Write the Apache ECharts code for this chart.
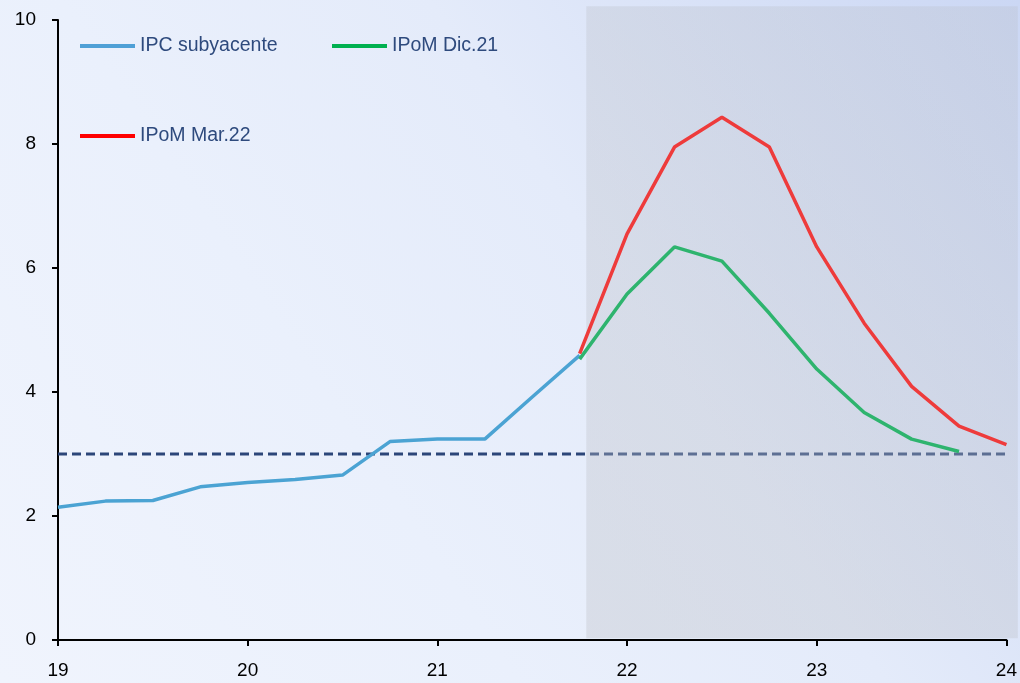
<!DOCTYPE html>
<html>
<head>
<meta charset="utf-8">
<script src="https://cdn.jsdelivr.net/npm/echarts@6/dist/echarts.min.js"></script>
<style>
html,body{margin:0;padding:0;}
#chart{width:1020px;height:683px;}
</style>
</head>
<body>
<div id="chart"></div>
<script>
// Quarterly x positions (year fraction, 19 = 2019)
var xBlue = [19.0, 19.25, 19.5, 19.75, 20.0, 20.25, 20.5, 20.75, 21.0, 21.25, 21.5, 21.75];
var ipcSubyacente = [2.14, 2.24, 2.25, 2.47, 2.54, 2.59, 2.66, 3.20, 3.24, 3.24, 3.92, 4.59];

var xDic = [21.75, 22.0, 22.25, 22.5, 22.75, 23.0, 23.25, 23.5, 23.75];
var ipomDic21 = [4.53, 5.58, 6.34, 6.11, 5.27, 4.37, 3.67, 3.24, 3.04];

var xMar = [21.75, 22.0, 22.25, 22.5, 22.75, 23.0, 23.25, 23.5, 23.75, 24.0];
var ipomMar22 = [4.62, 6.55, 7.95, 8.43, 7.95, 6.34, 5.11, 4.09, 3.45, 3.15];

var metaValue = 3;
var xTicks = [19, 20, 21, 22, 23, 24];
var yTicks = [0, 2, 4, 6, 8, 10];
var projStart = 21.785;

function pairs(xs, ys) { return xs.map(function (x, i) { return [x, ys[i]]; }); }

var chart = echarts.init(document.getElementById('chart'));
var fam = 'Liberation Sans, Arial, sans-serif';
var legendText = { color: '#2E4A7D', fontSize: 19.5, fontFamily: fam, lineHeight: 22 };
var option = {
  animation: false,
  backgroundColor: {
    type: 'linear', x: 0, y: 1, x2: 1, y2: 0,
    colorStops: [
      { offset: 0, color: '#F0F4FD' },
      { offset: 0.35, color: '#EAF0FC' },
      { offset: 0.6, color: '#E4EBFA' },
      { offset: 1, color: '#CBD7F4' }
    ]
  },
  grid: { left: 58, right: 12, top: 20, bottom: 43, containLabel: false },
  legend: [
    { left: 80, top: 35, padding: 0, icon: 'rect', itemWidth: 55, itemHeight: 4, selectedMode: false,
      textStyle: legendText, data: [{ name: 'IPC subyacente', itemStyle: { color: '#4FA0D6' } }] },
    { left: 332, top: 35, padding: 0, icon: 'rect', itemWidth: 55, itemHeight: 4, selectedMode: false,
      textStyle: legendText, data: [{ name: 'IPoM Dic.21', itemStyle: { color: '#00B050' } }] },
    { left: 80, top: 125, padding: 0, icon: 'rect', itemWidth: 55, itemHeight: 4, selectedMode: false,
      textStyle: legendText, data: [{ name: 'IPoM Mar.22', itemStyle: { color: '#FF0000' } }] }
  ],
  xAxis: {
    type: 'value', min: xTicks[0], max: xTicks[xTicks.length - 1], interval: 1,
    splitLine: { show: false },
    axisLine: { lineStyle: { color: '#000', width: 2 } },
    axisTick: { show: true, length: 6, lineStyle: { color: '#000', width: 2 } },
    axisLabel: { color: '#000', fontSize: 19, margin: 21, fontFamily: fam }
  },
  yAxis: {
    type: 'value', min: yTicks[0], max: yTicks[yTicks.length - 1], interval: 2,
    splitLine: { show: false },
    axisLine: { show: true, lineStyle: { color: '#000', width: 2 } },
    axisTick: { show: true, length: 6, lineStyle: { color: '#000', width: 2 } },
    axisLabel: { color: '#000', fontSize: 19, margin: 22, fontFamily: fam }
  },
  series: [
    {
      name: 'Meta', type: 'line', z: 2, symbol: 'none', silent: true,
      data: [[xTicks[0], metaValue], [xTicks[xTicks.length - 1], metaValue]],
      lineStyle: { color: '#2C4679', width: 3, type: [9, 5] }
    },
    {
      name: 'IPC subyacente', type: 'line', z: 4, symbol: 'none',
      data: pairs(xBlue, ipcSubyacente),
      lineStyle: { color: '#4BA3D3', width: 3.5 }, itemStyle: { color: '#4FA0D6' }
    },
    {
      name: 'IPoM Dic.21', type: 'line', z: 5, symbol: 'none',
      data: pairs(xDic, ipomDic21),
      lineStyle: { color: '#2EB46E', width: 3.5 }, itemStyle: { color: '#00B050' }
    },
    {
      name: 'IPoM Mar.22', type: 'line', z: 6, symbol: 'none',
      data: pairs(xMar, ipomMar22),
      lineStyle: { color: '#EE3B3B', width: 3.5 }, itemStyle: { color: '#FF0000' }
    }
  ]
};
chart.setOption(option);

// projection shading, positioned through the axes
var p1 = chart.convertToPixel({ gridIndex: 0 }, [projStart, 10.22]);
var p2 = chart.convertToPixel({ gridIndex: 0 }, [24.06, 0.03]);
chart.setOption({
  graphic: [{
    type: 'rect', z: 3, silent: true,
    shape: { x: p1[0], y: p1[1], width: p2[0] - p1[0], height: p2[1] - p1[1] },
    style: {
      fill: {
        type: 'linear', x: 0, y: 1, x2: 1, y2: 0,
        colorStops: [
          { offset: 0, color: 'rgba(190,192,198,0.36)' },
          { offset: 1, color: 'rgba(185,190,200,0.30)' }
        ]
      }
    }
  }]
});
</script>
</body>
</html>
